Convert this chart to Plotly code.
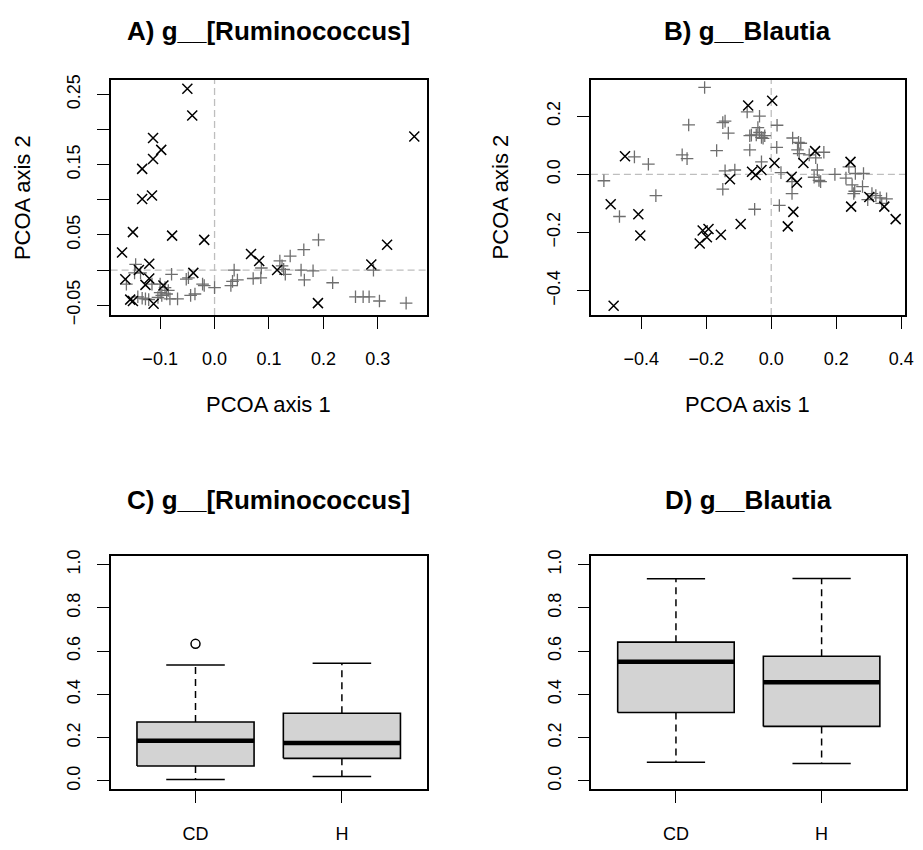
import plotly.graph_objects as go

# ---------------- Data ----------------
# Panel A: g__[Ruminococcus] PCoA
a_cd_x = [-0.050, -0.041, 0.367, -0.113, -0.098, -0.113, -0.133, -0.133, -0.115, -0.150,
          -0.078, -0.019, -0.170, 0.317, 0.067, 0.082, -0.120, -0.139, -0.039, -0.164,
          -0.120, -0.127, -0.094, 0.115, 0.288, -0.155, -0.150, -0.112, 0.190]
a_cd_y = [0.258, 0.220, 0.190, 0.188, 0.171, 0.158, 0.144, 0.101, 0.106, 0.054,
          0.049, 0.043, 0.025, 0.036, 0.023, 0.013, 0.009, 0.000, -0.004, -0.013,
          -0.012, -0.021, -0.022, 0.000, 0.008, -0.042, -0.044, -0.048, -0.047]
a_h_x = [-0.145, -0.162, -0.147, -0.136, -0.141, -0.133, -0.127, -0.121, -0.104, -0.100,
         -0.097, -0.091, -0.085, -0.082, -0.068, -0.079, -0.052, -0.048, -0.044, -0.036,
         -0.022, -0.019, 0.000, 0.030, 0.036, 0.033, 0.042, 0.071, 0.085, 0.086,
         0.120, 0.124, 0.127, 0.130, 0.139, 0.159, 0.164, 0.165, 0.181, 0.191,
         0.217, 0.259, 0.273, 0.284, 0.292, 0.303, 0.352, -0.115, -0.100, -0.088]
a_h_y = [0.008, -0.020, -0.004, -0.004, -0.038, -0.040, -0.041, -0.042, -0.039, -0.032,
         -0.036, -0.025, -0.029, -0.041, -0.041, -0.006, -0.013, -0.011, -0.036, -0.034,
         -0.020, -0.022, -0.025, -0.022, 0.000, -0.016, -0.014, -0.012, -0.011, 0.003,
         0.013, 0.006, 0.001, -0.006, 0.020, 0.000, 0.029, -0.014, -0.001, 0.043,
         -0.018, -0.038, -0.038, -0.038, 0.000, -0.044, -0.047, -0.020, -0.020, -0.034]

# Panel B: g__Blautia PCoA
b_cd_x = [-0.071, 0.003, -0.450, -0.494, -0.409, -0.403, -0.211, -0.193, -0.198, -0.220,
          -0.155, -0.127, -0.094, -0.059, -0.048, -0.030, 0.010, 0.063, 0.079, 0.068,
          0.051, 0.099, 0.135, 0.244, 0.246, 0.302, 0.348, 0.383, -0.485]
b_cd_y = [0.237, 0.253, 0.062, -0.103, -0.137, -0.210, -0.193, -0.188, -0.216, -0.238,
          -0.208, -0.017, -0.171, 0.009, -0.002, 0.015, 0.039, -0.008, -0.028, -0.129,
          -0.179, 0.039, 0.080, 0.043, -0.111, -0.078, -0.111, -0.154, -0.452]
b_h_x = [-0.515, -0.467, -0.421, -0.378, -0.355, -0.274, -0.259, -0.254, -0.205, -0.168,
         -0.149, -0.142, -0.132, -0.149, -0.142, -0.112, -0.074, -0.066, -0.066, -0.061,
         -0.051, -0.046, -0.041, -0.036, -0.036, -0.030, -0.025, -0.020, -0.030, 0.018,
         0.017, 0.030, 0.025, 0.066, 0.064, 0.064, 0.084, 0.091, 0.081, 0.086,
         0.117, 0.137, 0.142, 0.132, 0.147, 0.152, 0.162, 0.196, 0.230, 0.239,
         0.249, 0.259, 0.284, 0.281, 0.257, 0.254, 0.310, 0.322, 0.335, 0.355,
         0.340, 0.297]
b_h_y = [-0.022, -0.145, 0.060, 0.035, -0.073, 0.067, 0.054, 0.170, 0.299, 0.082,
         0.178, 0.183, 0.142, -0.051, 0.012, 0.015, 0.215, 0.084, 0.133, 0.135,
         -0.120, 0.136, 0.161, 0.200, 0.144, 0.127, 0.124, 0.133, 0.043, 0.169,
         0.093, 0.006, -0.107, 0.125, -0.025, -0.066, 0.110, 0.107, 0.084, 0.071,
         0.067, 0.057, 0.015, -0.010, -0.021, -0.025, 0.076, 0.000, -0.013, 0.026,
         -0.036, 0.003, 0.003, -0.042, -0.058, -0.066, -0.066, -0.073, -0.081, -0.084,
         -0.100, -0.087]

# Panels C/D: boxplot statistics
groups = ["CD", "H"]
c_lower = [0.006, 0.020]
c_q1 = [0.069, 0.104]
c_median = [0.186, 0.175]
c_q3 = [0.272, 0.313]
c_upper = [0.536, 0.544]
c_outliers = [[0.634], []]

d_lower = [0.086, 0.080]
d_q1 = [0.316, 0.252]
d_median = [0.551, 0.456]
d_q3 = [0.642, 0.577]
d_upper = [0.935, 0.937]
d_outliers = [[], []]

a_xticks = [-0.1, 0.0, 0.1, 0.2, 0.3]
a_yticks = [-0.05, 0.0, 0.05, 0.10, 0.15, 0.20, 0.25]
a_ytext = ["\u22120.05", "", "0.05", "", "0.15", "", "0.25"]
b_xticks = [-0.4, -0.2, 0.0, 0.2, 0.4]
b_yticks = [-0.4, -0.2, 0.0, 0.2]
box_yticks = [0.0, 0.2, 0.4, 0.6, 0.8, 1.0]

titles = ["A) g__[Ruminococcus]", "B) g__Blautia", "C) g__[Ruminococcus]", "D) g__Blautia"]

# ---------------- Figure ----------------
W, H = 923, 850
FONT = "Liberation Sans, Arial, Helvetica, sans-serif"
fig = go.Figure()

def minus(v, fmt):
    s = fmt.format(v)
    return s.replace("-", "\u2212")

# pixel-based domains
def xdom(l, r):
    return [l / W, r / W]

def ydom(t, b):
    return [1 - b / H, 1 - t / H]

doms = {
    1: (xdom(111.7, 431.0), ydom(75.0, 315.0)),
    2: (xdom(596.7, 914.0), ydom(75.0, 315.0)),
    3: (xdom(111.7, 431.0), ydom(560.7, 798.5)),
    4: (xdom(597.3, 915.0), ydom(560.7, 798.5)),
}

XCOL = "black"
PCOL = "#6e6e6e"

def scatter_panel(n, cx, cy, hx, hy):
    xa = "x" if n == 1 else f"x{n}"
    ya = "y" if n == 1 else f"y{n}"
    fig.add_trace(go.Scatter(x=hx, y=hy, mode="markers", xaxis=xa, yaxis=ya,
                             marker=dict(symbol="cross-thin", size=9, color=PCOL,
                                         line=dict(color=PCOL, width=1.3)),
                             showlegend=False, hoverinfo="skip"))
    fig.add_trace(go.Scatter(x=cx, y=cy, mode="markers", xaxis=xa, yaxis=ya,
                             marker=dict(symbol="x-thin", size=10, color=XCOL,
                                         line=dict(color=XCOL, width=1.5)),
                             showlegend=False, hoverinfo="skip"))
    # dashed reference lines at 0
    fig.add_shape(type="line", xref=xa, yref=f"{ya} domain", x0=0, x1=0, y0=0, y1=1,
                  line=dict(color="#bebebe", width=1.3, dash="7px,4px"), layer="below")
    fig.add_shape(type="line", xref=f"{xa} domain", yref=ya, x0=0, x1=1, y0=0, y1=0,
                  line=dict(color="#bebebe", width=1.3, dash="7px,4px"), layer="below")

scatter_panel(1, a_cd_x, a_cd_y, a_h_x, a_h_y)
scatter_panel(2, b_cd_x, b_cd_y, b_h_x, b_h_y)

def box_panel(n, lower, q1, med, q3, upper, outl):
    xa = f"x{n}"
    ya = f"y{n}"
    bw = 0.4
    cw = 0.2
    for i in range(len(groups)):
        c = i + 1
        # whiskers (dashed)
        fig.add_trace(go.Scatter(x=[c, c, None, c, c], y=[q3[i], upper[i], None, q1[i], lower[i]],
                                 mode="lines", xaxis=xa, yaxis=ya,
                                 line=dict(color="black", width=1.5, dash="7px,5px"),
                                 showlegend=False, hoverinfo="skip"))
        # caps
        fig.add_trace(go.Scatter(x=[c - cw, c + cw, None, c - cw, c + cw],
                                 y=[upper[i], upper[i], None, lower[i], lower[i]],
                                 mode="lines", xaxis=xa, yaxis=ya,
                                 line=dict(color="black", width=1.5),
                                 showlegend=False, hoverinfo="skip"))
        # box
        fig.add_trace(go.Scatter(x=[c - bw, c + bw, c + bw, c - bw, c - bw],
                                 y=[q1[i], q1[i], q3[i], q3[i], q1[i]],
                                 mode="lines", fill="toself", fillcolor="#d3d3d3",
                                 xaxis=xa, yaxis=ya,
                                 line=dict(color="black", width=1.6),
                                 showlegend=False, hoverinfo="skip"))
        # median
        fig.add_trace(go.Scatter(x=[c - bw, c + bw], y=[med[i], med[i]],
                                 mode="lines", xaxis=xa, yaxis=ya,
                                 line=dict(color="black", width=4.5),
                                 showlegend=False, hoverinfo="skip"))
        if outl[i]:
            fig.add_trace(go.Scatter(x=[c] * len(outl[i]), y=outl[i], mode="markers",
                                     xaxis=xa, yaxis=ya,
                                     marker=dict(symbol="circle-open", size=9, color="black",
                                                 line=dict(width=1.5)),
                                     showlegend=False, hoverinfo="skip"))

box_panel(3, c_lower, c_q1, c_median, c_q3, c_upper, c_outliers)
box_panel(4, d_lower, d_q1, d_median, d_q3, d_upper, d_outliers)

tickfont = dict(family=FONT, size=18, color="black")
common = dict(showline=True, linecolor="black", linewidth=1.5, mirror=True,
              ticks="outside", ticklen=12, tickwidth=1.4, tickcolor="black",
              showgrid=False, zeroline=False, tickfont=tickfont, fixedrange=True)

XSO = 15
YSO = 10
layout_axes = {}
# A
layout_axes["xaxis"] = dict(domain=doms[1][0], anchor="y", range=[-0.191, 0.390],
                            tickvals=a_xticks, ticktext=[minus(v, "{:.1f}") for v in a_xticks],
                            ticklabelstandoff=XSO, **common)
layout_axes["yaxis"] = dict(domain=doms[1][1], anchor="x", range=[-0.064, 0.271],
                            tickvals=a_yticks, ticktext=a_ytext, tickangle=-90,
                            ticklabelstandoff=YSO, **common)
# B
layout_axes["xaxis2"] = dict(domain=doms[2][0], anchor="y2", range=[-0.555, 0.412],
                             tickvals=b_xticks, ticktext=[minus(v, "{:.1f}") for v in b_xticks],
                             ticklabelstandoff=XSO, **common)
layout_axes["yaxis2"] = dict(domain=doms[2][1], anchor="x2", range=[-0.484, 0.326],
                             tickvals=b_yticks, ticktext=[minus(v, "{:.1f}") for v in b_yticks],
                             tickangle=-90, ticklabelstandoff=YSO, **common)
# C
layout_axes["xaxis3"] = dict(domain=doms[3][0], anchor="y3", range=[0.42, 2.58],
                             tickvals=[1, 2], ticktext=groups, ticklabelstandoff=XSO, **common)
layout_axes["yaxis3"] = dict(domain=doms[3][1], anchor="x3", range=[-0.04, 1.04],
                             tickvals=box_yticks, ticktext=[f"{v:.1f}" for v in box_yticks],
                             tickangle=-90, ticklabelstandoff=YSO, **common)
# D
layout_axes["xaxis4"] = dict(domain=doms[4][0], anchor="y4", range=[0.42, 2.58],
                             tickvals=[1, 2], ticktext=groups, ticklabelstandoff=XSO, **common)
layout_axes["yaxis4"] = dict(domain=doms[4][1], anchor="x4", range=[-0.04, 1.04],
                             tickvals=box_yticks, ticktext=[f"{v:.1f}" for v in box_yticks],
                             tickangle=-90, ticklabelstandoff=YSO, **common)

annotations = []
title_pos = [((111.7 + 431.0) / 2, 25), ((596.7 + 914.0) / 2, 25),
             ((111.7 + 431.0) / 2, 503), ((597.3 + 915.0) / 2, 503)]
for t, (px, py) in zip(titles, title_pos):
    annotations.append(dict(text=f"<b>{t}</b>", x=px / W, y=1 - py / H, xref="paper", yref="paper",
                            xanchor="center", yanchor="middle", showarrow=False,
                            font=dict(family=FONT, size=26, color="black")))
# axis titles for scatter panels
for cx in [(111.7 + 431.0) / 2, (596.7 + 914.0) / 2]:
    annotations.append(dict(text="PCOA axis 1", x=cx / W, y=1 - 406 / H, xref="paper", yref="paper",
                            xanchor="center", yanchor="middle", showarrow=False,
                            font=dict(family=FONT, size=22, color="black")))
for cx in [23, 505]:
    annotations.append(dict(text="PCOA axis 2", x=cx / W, y=1 - 195 / H, xref="paper", yref="paper",
                            xanchor="center", yanchor="middle", showarrow=False, textangle=-90,
                            font=dict(family=FONT, size=22, color="black")))

fig.update_layout(width=W, height=H, margin=dict(l=0, r=0, t=0, b=0),
                  paper_bgcolor="white", plot_bgcolor="white",
                  font=dict(family=FONT, color="black"),
                  annotations=annotations, showlegend=False, **layout_axes)

fig.write_html("out.html", config={"displayModeBar": False},
               post_script="document.body.style.margin='0px';document.body.style.overflow='hidden';")
